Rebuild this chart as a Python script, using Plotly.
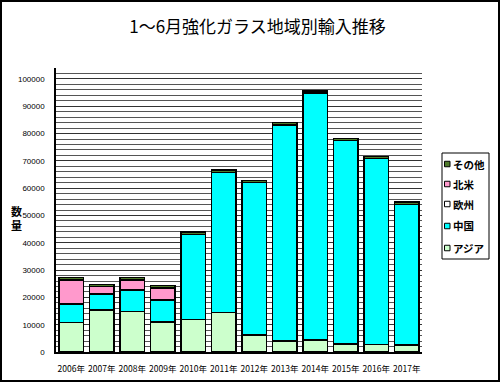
import plotly.graph_objects as go

years = ["2006年", "2007年", "2008年", "2009年", "2010年", "2011年",
         "2012年", "2013年", "2014年", "2015年", "2016年", "2017年"]
asia = [10700, 15400, 14800, 11000, 12000, 14400, 6200, 4100, 4400, 2900, 2800, 2600]
china = [6900, 5800, 7900, 8000, 31100, 51400, 55800, 79100, 90400, 74500, 68000, 51500]
europe = [0, 0, 0, 0, 0, 0, 0, 0, 0, 0, 0, 0]
namerica = [8800, 2700, 3700, 4500, 0, 0, 0, 0, 0, 0, 0, 0]
others = [800, 800, 800, 800, 800, 800, 800, 800, 800, 800, 800, 800]

series = [
    ("アジア", asia, "#CCFFCC"),
    ("中国", china, "#00FFFF"),
    ("欧州", europe, "#FFFFFF"),
    ("北米", namerica, "#FF99CC"),
    ("その他", others, "#4E7A2A"),
]

fig = go.Figure()
for name, vals, col in series:
    fig.add_trace(go.Bar(x=years, y=vals, name=name, marker_color=col,
                         marker_line=dict(color="black", width=1.4),
                         showlegend=False))

font_jp = "Noto Sans CJK JP"
W, H = 500, 382
L, R, T, B = 56, 78, 68, 30
pw, ph = W - L - R, H - T - B


def px(x):
    return (x - L) / pw


def py(y):
    return (H - B - y) / ph


fig.update_layout(
    width=W, height=H,
    barmode="stack", bargap=0.2,
    paper_bgcolor="white", plot_bgcolor="white",
    margin=dict(l=L, r=R, t=T, b=B, autoexpand=False),
    font=dict(family=font_jp, size=9, color="black"),
    title=dict(text="1～6月強化ガラス地域別輸入推移", x=0.515, xanchor="center",
               y=1 - 27 / H, yanchor="middle",
               font=dict(family=font_jp, size=17, color="black")),
    showlegend=False,
)
fig.update_yaxes(range=[0, 104000], dtick=10000, tick0=0, tickformat="d",
                 showgrid=True, gridcolor="#333333", gridwidth=1.2,
                 minor=dict(dtick=2000, showgrid=True, gridcolor="#555555", gridwidth=1),
                 showline=True, linecolor="black", linewidth=1.5,
                 ticklabelstandoff=8, tickfont=dict(size=8, family="Liberation Sans"),
                 zeroline=False)
fig.update_xaxes(showline=True, linecolor="black", linewidth=1.5, tickangle=0,
                 tickfont=dict(size=8.5, family=font_jp), ticklabelstandoff=8)

# y-axis title (stacked characters)
fig.add_annotation(text="<b>数<br>量</b>", xref="paper", yref="paper",
                   x=px(10), y=py(218), showarrow=False, borderpad=0,
                   font=dict(family=font_jp, size=11, color="black"))

# legend (drawn manually to match the compact boxed legend)
fig.add_shape(type="rect", xref="paper", yref="paper",
              x0=px(442), x1=px(489), y0=py(259), y1=py(153),
              line=dict(color="black", width=1), fillcolor="white")
leg_y = [164, 184, 204, 226, 248]
for (name, vals, col), yy in zip(reversed(series), leg_y):
    fig.add_shape(type="rect", xref="paper", yref="paper",
                  x0=px(444.5), x1=px(450), y0=py(yy + 2.75), y1=py(yy - 2.75),
                  line=dict(color="black", width=1), fillcolor=col)
    fig.add_annotation(text="<b>" + name + "</b>", xref="paper", yref="paper",
                       x=px(451), y=py(yy), xanchor="left", yanchor="middle",
                       showarrow=False,
                       font=dict(family=font_jp, size=10.5, color="black"))

# outer border
fig.add_shape(type="rect", xref="paper", yref="paper",
              x0=px(1), x1=px(W - 1), y0=py(H - 1), y1=py(1),
              line=dict(color="black", width=2))

fig.write_html("out.html", config={"displayModeBar": False},
               post_script="document.body.style.margin='0';document.body.style.overflow='hidden';")
